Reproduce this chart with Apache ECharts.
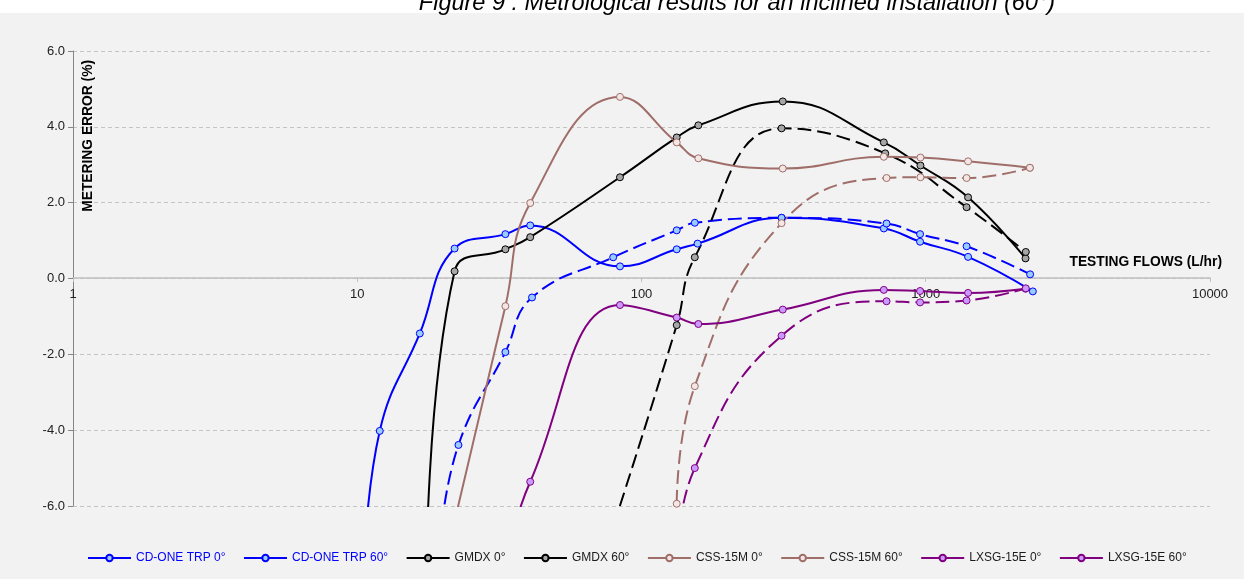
<!DOCTYPE html>
<html>
<head>
<meta charset="utf-8">
<title>Metrological results</title>
<script src="https://cdn.jsdelivr.net/npm/echarts@6.0.0/dist/echarts.min.js"></script>
<style>
  html, body { margin: 0; padding: 0; background: #f2f2f2; }
  #chart { width: 1244px; height: 579px; }
</style>
</head>
<body>
<div id="chart"></div>
<script>
// flows (L/hr) and metering error (%)
const cdTrp0X = [10.5, 12, 16.6, 22, 33.2, 40.6, 84, 133, 157.5, 311, 712, 955, 1409, 2381];
const cdTrp0Y = [-8.0, -4.02, -1.45, 0.79, 1.17, 1.40, 0.32, 0.77, 0.92, 1.60, 1.32, 0.97, 0.57, -0.34];

const cdTrp60X = [19.5, 22.7, 33.2, 41.2, 79.5, 133, 154, 311, 728, 955, 1392, 2329];
const cdTrp60Y = [-7.0, -4.39, -1.94, -0.50, 0.56, 1.27, 1.47, 1.60, 1.45, 1.17, 0.85, 0.11];

const gmdx0X = [17.5, 22, 33.2, 40.6, 84, 133, 158.5, 314, 712, 958, 1409, 2244];
const gmdx0Y = [-8.0, 0.19, 0.77, 1.09, 2.67, 3.72, 4.04, 4.67, 3.59, 2.98, 2.14, 0.53];

const gmdx60X = [76, 133, 154, 311, 720, 1392, 2249];
const gmdx60Y = [-7.0, -1.23, 0.56, 3.96, 3.30, 1.88, 0.70];

const css0X = [22, 33.2, 40.6, 84, 133, 158.5, 314, 712, 958, 1409, 2325];
const css0Y = [-6.4, -0.73, 1.99, 4.79, 3.59, 3.17, 2.90, 3.21, 3.19, 3.09, 2.92];

const css60X = [133, 154, 311, 728, 958, 1392, 2325];
const css60Y = [-5.94, -2.84, 1.46, 2.65, 2.67, 2.65, 2.92];

const lxsg0X = [33.2, 40.6, 84, 133, 158.5, 314, 712, 955, 1409, 2244];
const lxsg0Y = [-7.5, -5.36, -0.70, -1.03, -1.20, -0.82, -0.30, -0.33, -0.38, -0.27];

const lxsg60X = [133, 154, 311, 728, 955, 1392, 2249];
const lxsg60Y = [-7.5, -5.00, -1.51, -0.60, -0.63, -0.58, -0.26];

const yTicks = [-6, -4, -2, 0, 2, 4, 6];

function zip(xs, ys) {
  return xs.map((x, i) => [x, ys[i]]);
}

function makeSeries(name, xs, ys, color, fill, dashed) {
  return {
    name: name,
    type: 'line',
    data: zip(xs, ys),
    smooth: 0.45,
    clip: true,
    symbol: 'circle',
    symbolSize: 7,
    lineStyle: {
      color: color,
      width: 2,
      type: dashed ? [14, 6] : 'solid'
    },
    itemStyle: {
      color: fill,
      borderColor: color,
      borderWidth: 1
    },
    emphasis: { disabled: true }
  };
}

const seriesList = [
  makeSeries('CD-ONE TRP 0°', cdTrp0X, cdTrp0Y, '#0000ff', '#99ccff', false),
  makeSeries('CD-ONE TRP 60°', cdTrp60X, cdTrp60Y, '#0000ff', '#99ccff', true),
  makeSeries('GMDX 0°', gmdx0X, gmdx0Y, '#000000', '#a6a6a6', false),
  makeSeries('GMDX 60°', gmdx60X, gmdx60Y, '#000000', '#a6a6a6', true),
  makeSeries('CSS-15M 0°', css0X, css0Y, '#a06e69', '#f3e6e4', false),
  makeSeries('CSS-15M 60°', css60X, css60Y, '#a06e69', '#f3e6e4', true),
  makeSeries('LXSG-15E 0°', lxsg0X, lxsg0Y, '#800080', '#cc99ff', false),
  makeSeries('LXSG-15E 60°', lxsg60X, lxsg60Y, '#800080', '#cc99ff', true)
];

const chart = echarts.init(document.getElementById('chart'));

// plot is 73..1210 x 51..506, zero line sits at y=278
const option = {
  backgroundColor: '#f2f2f2',
  animation: false,
  textStyle: { fontFamily: 'Arial, "Liberation Sans", sans-serif' },
  grid: {
    left: 73,
    right: 34,
    top: 51,
    bottom: 73,
    outerBoundsMode: 'none'
  },
  graphic: [
    {
      type: 'rect',
      left: 0,
      top: 0,
      z: 10,
      shape: { width: 1244, height: 13 },
      style: { fill: '#ffffff' }
    },
    {
      type: 'text',
      x: 737,
      y: 15,
      z: 11,
      style: {
        text: 'Figure 9 : Metrological results for an inclined installation (60°)',
        font: 'italic 23.5px Arial, "Liberation Sans", sans-serif',
        fill: '#000000',
        align: 'center',
        verticalAlign: 'bottom'
      }
    },
    {
      type: 'text',
      x: 88,
      y: 60,
      rotation: Math.PI / 2,
      z: 11,
      style: {
        text: 'METERING ERROR (%)',
        font: 'bold 13.8px Arial, "Liberation Sans", sans-serif',
        fill: '#000000',
        align: 'right',
        verticalAlign: 'middle'
      }
    }
  ],
  legend: {
    left: 82,
    bottom: 10,
    itemWidth: 43,
    itemHeight: 8,
    itemGap: 17.5,
    lineStyle: { type: 'solid' },
    textStyle: { fontSize: 12, color: '#1a1a1a' },
    data: seriesList.map(s => ({
      name: s.name,
      textStyle: { color: s.name.indexOf('CD-ONE') === 0 ? '#0000ff' : '#1a1a1a' }
    }))
  },
  xAxis: {
    type: 'log',
    logBase: 10,
    min: 1,
    max: 10000,
    position: 'bottom',
    offset: -228,
    name: 'TESTING FLOWS (L/hr)',
    nameLocation: 'end',
    nameGap: 12,
    nameTextStyle: {
      fontSize: 13.8,
      fontWeight: 'bold',
      color: '#000000',
      align: 'right',
      verticalAlign: 'bottom',
      padding: [0, 0, 9, 0]
    },
    axisLine: {
      onZero: false,
      lineStyle: { color: '#c0c0c0', width: 1.5 }
    },
    axisTick: {
      show: true,
      length: 4,
      lineStyle: { color: '#c0c0c0' }
    },
    minorTick: { show: false },
    axisLabel: {
      fontSize: 13,
      color: '#222222',
      margin: 10,
      formatter: v => String(Math.round(v))
    },
    splitLine: { show: false }
  },
  yAxis: {
    type: 'value',
    min: yTicks[0],
    max: yTicks[yTicks.length - 1],
    interval: 2,
    axisLine: {
      show: true,
      onZero: false,
      lineStyle: { color: '#868686', width: 1 }
    },
    axisTick: {
      show: true,
      length: 5,
      lineStyle: { color: '#868686' }
    },
    axisLabel: {
      fontSize: 13,
      color: '#222222',
      margin: 8,
      formatter: v => v.toFixed(1)
    },
    splitLine: {
      show: true,
      lineStyle: { color: '#c4c4c4', type: [4, 3], width: 1 }
    }
  },
  series: seriesList
};

chart.setOption(option);
</script>
</body>
</html>
